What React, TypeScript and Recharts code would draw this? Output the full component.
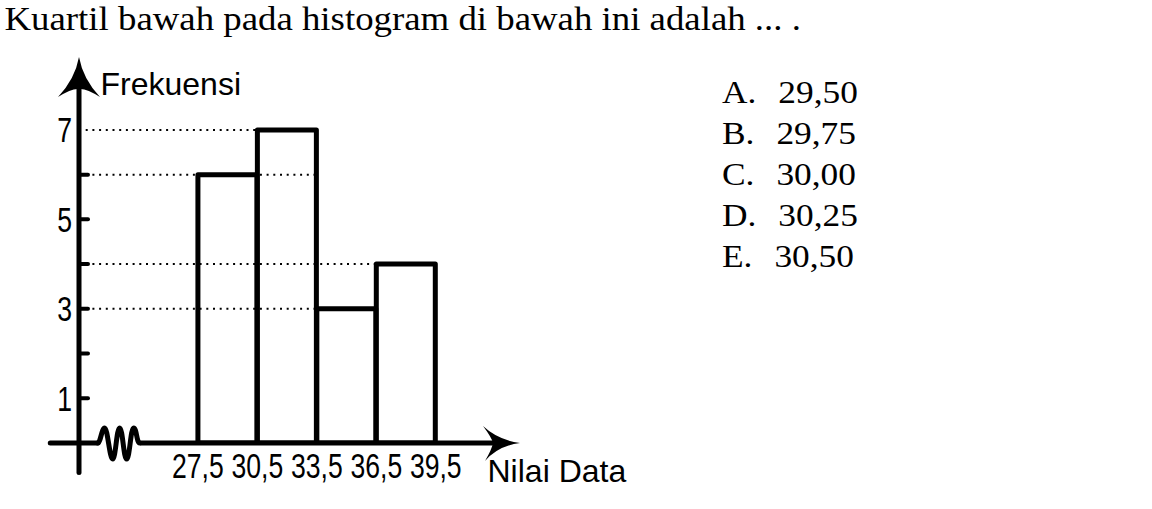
import React from 'react';
import { ComposedChart, Bar, XAxis, YAxis, ReferenceLine, ReferenceDot } from 'recharts';

// ---- data ----
const classLower = [27.5, 30.5, 33.5, 36.5];
const classUpper = [30.5, 33.5, 36.5, 39.5];
const frequencies = [6, 7, 3, 4];
const xTicks = [27.5, 30.5, 33.5, 36.5, 39.5];
const yTicks = [1, 2, 3, 4, 5, 6, 7];
const yTickLabels = [1, 3, 5, 7];
const yTickMarks = [1, 2, 3, 4, 5, 6];
const guideLevels = [7, 6, 4, 3];
const guideEnds = [30.5, 33.5, 36.5, 33.5];
const optionLetters = ['A.', 'B.', 'C.', 'D.', 'E.'];
const optionValues = ['29,50', '29,75', '30,00', '30,25', '30,50'];
const titleText = 'Kuartil bawah pada histogram di bawah ini adalah ... .';
const yAxisTitle = 'Frekuensi';
const xAxisTitle = 'Nilai Data';

// axis layout (data units)
const xDomain: [number, number] = [21.5, 43.75];
const yDomain: [number, number] = [0, 8.63];
const axisLeftExtent = 20.05;
const breakStart = 22.46;
const breakEnd = 24.58;
const breakCenter = 23.5;
const xAxisLineEnd = 42.6;
const yAxisBottom = -0.66;
const yAxisLineEnd = 8.2;

const data = classLower.map((l, i) => ({ mid: (l + classUpper[i]) / 2, freq: frequencies[i] }));

const SANS = "'Liberation Sans', Arial, sans-serif";
const SERIF = "'Liberation Serif', 'Times New Roman', serif";
const NARROW_SCALE = 0.76;
const TICK_FONT = 35;

const fmt = (v: number) => String(v).replace('.', ',');

const XTick = (props: any) => {
  const { x, y, payload } = props;
  return (
    <text
      transform={`translate(${x},${y}) scale(${NARROW_SCALE},1)`}
      dy="0.71em"
      textAnchor="middle"
      fontFamily={SANS}
      fontSize={TICK_FONT}
      fill="#000"
    >
      {fmt(payload.value)}
    </text>
  );
};

const YTick = (props: any) => {
  const { x, y, payload } = props;
  const v = payload.value;
  return (
    <g>
      {yTickLabels.includes(v) && (
        <text
          transform={`translate(${x},${y}) scale(${NARROW_SCALE},1)`}
          dy="0.355em"
          textAnchor="end"
          fontFamily={SANS}
          fontSize={TICK_FONT}
          fill="#000"
        >
          {v}
        </text>
      )}
      {yTickMarks.includes(v) && (
        <line x1={x + 7} x2={x + 16} y1={y} y2={y} stroke="#000" strokeWidth={4} strokeLinecap="round" />
      )}
    </g>
  );
};

const YArrow = (p: any) => (
  <path
    transform={`translate(${p.cx},${p.cy})`}
    d="M0,0 Q4,22 21,40 Q7,31 0,32 Q-7,31 -21,40 Q-4,22 0,0 Z"
    fill="#000"
  />
);

const XArrow = (p: any) => (
  <path
    transform={`translate(${p.cx},${p.cy})`}
    d="M0,0 Q-22,-3 -37,-17 Q-28,-5 -27,0 Q-28,6 -35,18 Q-22,3 0,0 Z"
    fill="#000"
  />
);

const Squiggle = (p: any) => (
  <path
    transform={`translate(${p.cx},${p.cy})`}
    d="M-21,0 C-18,0 -17,-15 -14,-15 C-11,-15 -9,16 -6,16 C-3,16 -2,-15 1,-15 C4,-15 5,16 8,16 C11,16 12,-15 15,-15 C18,-15 18,0 21,0"
    fill="none"
    stroke="#000"
    strokeWidth={5}
    strokeLinecap="round"
    strokeLinejoin="round"
  />
);

export default function App() {
  return (
    <div style={{ position: 'fixed', left: 0, top: 0, width: 1152, height: 509, background: '#fff', overflow: 'hidden' }}>
      <ComposedChart
        width={1152}
        height={509}
        data={data}
        margin={{ top: 57, right: 632, bottom: 26, left: 19 }}
        barCategoryGap={0}
        barGap={0}
      >
        <XAxis
          type="number"
          dataKey="mid"
          domain={xDomain}
          allowDataOverflow
          ticks={xTicks}
          interval={0}
          height={40}
          axisLine={false}
          tickLine={false}
          tickSize={0}
          tickMargin={10}
          tick={<XTick />}
        />
        <YAxis
          type="number"
          domain={yDomain}
          allowDataOverflow
          ticks={yTicks}
          interval={0}
          width={60}
          axisLine={false}
          tickLine={false}
          tickSize={0}
          tickMargin={7}
          tick={<YTick />}
        />
        {guideLevels.map((lv, i) => (
          <ReferenceLine
            key={'g' + i}
            segment={[{ x: xDomain[0], y: lv }, { x: guideEnds[i], y: lv }]}
            stroke="#000"
            strokeWidth={2}
            strokeDasharray="2 4.7"
            ifOverflow="visible"
          />
        ))}
        <Bar
          dataKey="freq"
          fill="none"
          stroke="#000"
          strokeWidth={5}
          strokeLinejoin="round"
          isAnimationActive={false}
        />
        <ReferenceLine
          segment={[{ x: axisLeftExtent, y: 0 }, { x: breakStart, y: 0 }]}
          stroke="#000"
          strokeWidth={5}
          strokeLinecap="round"
          ifOverflow="visible"
        />
        <ReferenceLine
          segment={[{ x: breakEnd, y: 0 }, { x: xAxisLineEnd, y: 0 }]}
          stroke="#000"
          strokeWidth={5}
          ifOverflow="visible"
        />
        <ReferenceLine
          segment={[{ x: xDomain[0], y: yAxisBottom }, { x: xDomain[0], y: yAxisLineEnd }]}
          stroke="#000"
          strokeWidth={5}
          strokeLinecap="round"
          ifOverflow="visible"
        />
        <ReferenceDot x={breakCenter} y={0} ifOverflow="visible" shape={Squiggle} />
        <ReferenceDot x={xDomain[1]} y={0} ifOverflow="visible" shape={XArrow} />
        <ReferenceDot x={xDomain[0]} y={yDomain[1]} ifOverflow="visible" shape={YArrow} />
      </ComposedChart>
      <svg
        width={1152}
        height={509}
        style={{ position: 'absolute', left: 0, top: 0, pointerEvents: 'none' }}
      >
        <text transform="translate(4.5,30) scale(1.116,1)" fontFamily={SERIF} fontSize={33} fill="#000">
          {titleText}
        </text>
        <text x={100.5} y={95} fontFamily={SANS} fontSize={32} fill="#000">
          {yAxisTitle}
        </text>
        <text x={487.5} y={482} fontFamily={SANS} fontSize={32} fill="#000">
          {xAxisTitle}
        </text>
        {optionLetters.map((l, i) => (
          <text
            key={l}
            transform={`translate(722,${103 + i * 41}) scale(1.14,1)`}
            fontFamily={SERIF}
            fontSize={31}
            fill="#000"
          >
            {l}
            <tspan dx={19.3}>{optionValues[i]}</tspan>
          </text>
        ))}
      </svg>
    </div>
  );
}
